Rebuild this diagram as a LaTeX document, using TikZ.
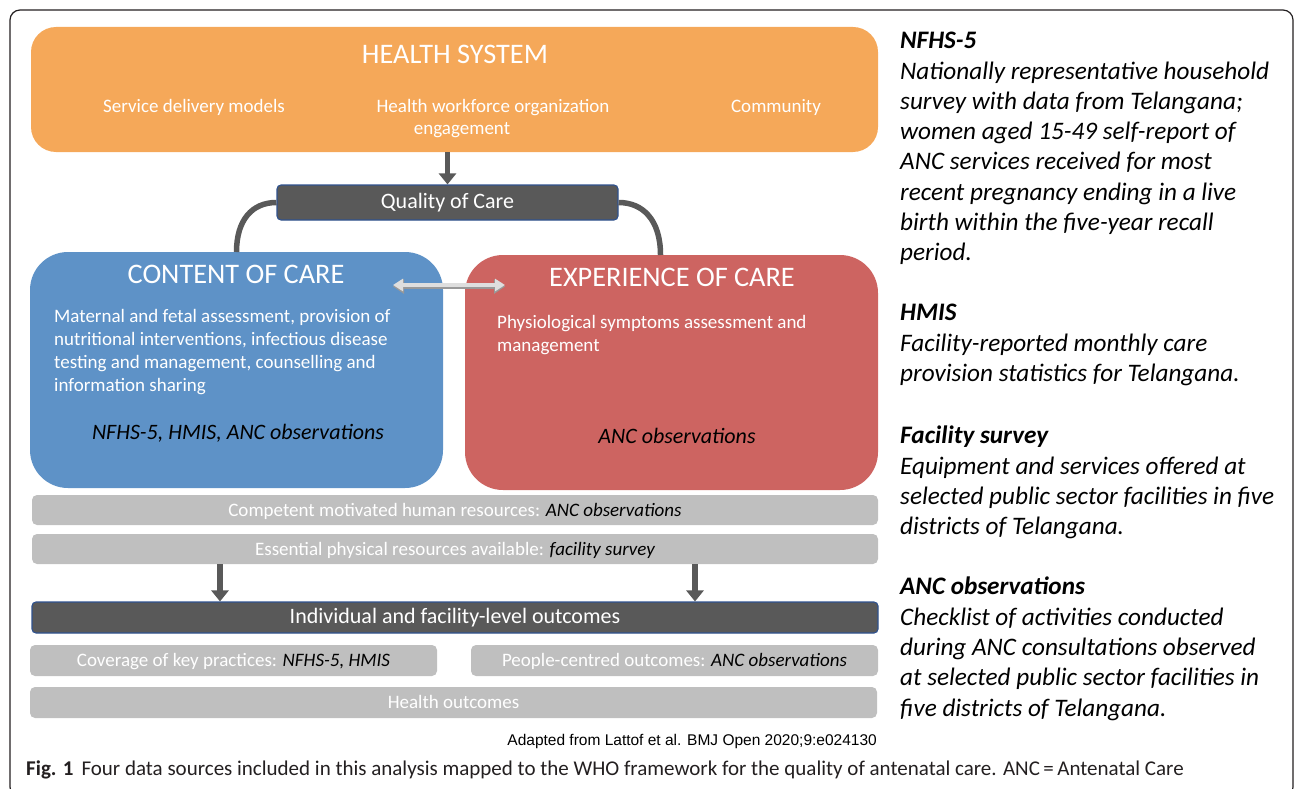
\documentclass[tikz,border=0pt]{standalone}
\usepackage{fontspec}
\setmainfont{Carlito}
\newfontfamily\arialfont{Liberation Sans}
\usetikzlibrary{arrows.meta,positioning,calc}

\definecolor{hsorange}{RGB}{245,168,89}
\definecolor{coblue}{RGB}{94,146,199}
\definecolor{eored}{RGB}{205,100,97}
\definecolor{bargray}{RGB}{191,191,191}
\definecolor{darkfill}{RGB}{89,89,89}
\definecolor{barline}{RGB}{47,82,143}
\definecolor{lightarrow}{RGB}{222,222,222}
\definecolor{captext}{RGB}{35,31,32}

\tikzset{
  panel/.style={inner sep=0pt, outer sep=0pt},
  head/.style={text=white, inner sep=0pt, font=\fontsize{28.3}{32}\selectfont},
  body/.style={text=white, inner sep=0pt, align=left, anchor=north west, font=\fontsize{19}{23}\selectfont},
  sub/.style={text=white, inner sep=0pt, font=\fontsize{19}{23}\selectfont},
  srcs/.style={inner sep=0pt, font=\fontsize{22}{26}\selectfont\itshape},
  greybar/.style={fill=bargray, rounded corners=5pt, inner sep=0pt, minimum height=30pt,
    text height=1.22em, text depth=0pt, text=white, font=\fontsize{19}{22}\selectfont},
  darkbar/.style={fill=darkfill, draw=barline, line width=1.1pt, rounded corners=4pt, inner sep=0pt,
    text height=1.26em, text depth=0pt, text=white},
  flow/.style={draw=darkfill, line width=5.5pt, -{Triangle[width=17pt,length=11pt]}},
  link/.style={draw=darkfill, line width=5.5pt},
  source/.style={inner sep=0pt, align=left, anchor=north west, text=black,
    font=\fontsize{25.2}{30.3}\selectfont\itshape},
}

\begin{document}
\begin{tikzpicture}[x=1pt,y=-1pt]
\useasboundingbox (0,0) rectangle (1295,789);

% cadre de la figure
\draw[captext, line width=1.2pt, rounded corners=10pt] (10,10) rectangle (1293,797);

% systeme de sante
\node[panel, fill=hsorange, rounded corners=25pt, minimum width=847pt, minimum height=125pt] (hs) at (454.5,89.5) {};
\node[head] (hst) at (455,54) {HEALTH SYSTEM};
\node[sub] (sdm) at (194,107) {Service delivery models};
\node[sub] (hwf) at (493,107.5) {Health workforce organization};
\node[sub] (eng) at (462,130.5) {engagement};
\node[sub] (com) at (776,107) {Community};

% qualite des soins
\node[darkbar, minimum width=341pt, minimum height=35pt, font=\fontsize{22}{26}\selectfont] (qoc) at (447.5,202.5) {Quality of Care};
\draw[flow] (hs.south -| qoc.north) -- (qoc.north);

% contenu et experience des soins
\node[panel, fill=coblue, rounded corners=38pt, minimum width=413pt, minimum height=236pt] (coc) at (236.5,370) {};
\node[panel, fill=eored, rounded corners=38pt, minimum width=413pt, minimum height=235pt] (eoc) at (671.5,372.5) {};

\draw[link] (qoc.west) .. controls (252,202.5) and (236.5,220) .. (coc.north);
\coordinate (eocin) at ($(eoc.north)+(-11,0)$);
\draw[link] (qoc.east) .. controls (643,202.5) and (660.5,220) .. (eocin);

\node[head] (coct) at (236,274) {CONTENT OF CARE};
\node[body] (cocb) at (54,309.5) {Maternal and fetal assessment, provision of\\
  nutritional interventions, infectious disease\\
  testing and management, counselling and\\
  information sharing};
\node[srcs] (cocs) at (238,433) {NFHS-5, HMIS, ANC observations};

\node[head] (eoct) at (672,277) {EXPERIENCE OF CARE};
\node[body] (eocb) at (497,315.5) {Physiological symptoms assessment and\\
  management};
\node[srcs] (eocs) at (677,436) {ANC observations};

% fleche double entre les deux blocs
\coordinate (dl) at (393,285);
\coordinate (dr) at (505,285);
\draw[draw=gray!80, line width=4.6pt, {Triangle[width=14pt,length=11pt]}-{Triangle[width=14pt,length=11pt]}] ($(dl)+(0,1.5)$) -- ($(dr)+(0,1.5)$);
\draw[draw=lightarrow, line width=3.4pt, {Triangle[width=12pt,length=10pt]}-{Triangle[width=12pt,length=10pt]}] (dl) -- (dr);

% ressources
\node[greybar, minimum width=846pt] (hr) at (455,510) {Competent motivated human resources: \textcolor{black}{\itshape ANC observations}};
\node[greybar, minimum width=846pt] (phys) at (455,549) {Essential physical resources available: \textcolor{black}{\itshape facility survey}};

% resultats
\node[darkbar, minimum width=846pt, minimum height=31pt, font=\fontsize{22}{26}\selectfont] (outc) at (455,617.5) {Individual and facility-level outcomes};
\coordinate (lx) at (220,0);
\coordinate (rx) at (695,0);
\draw[flow] (phys.south -| lx) -- (outc.north -| lx);
\draw[flow] (phys.south -| rx) -- (outc.north -| rx);

\node[greybar, minimum width=407pt, minimum height=31pt] (cov) at (233.5,660.5) {Coverage of key practices: \textcolor{black}{\itshape NFHS-5, HMIS}};
\node[greybar, minimum width=407pt, minimum height=31pt] (pco) at (674.5,660.5) {People-centred outcomes: \textcolor{black}{\itshape ANC observations}};
\node[greybar, minimum width=847pt, minimum height=31pt] (ho) at (453.5,702.5) {Health outcomes};

\node[inner sep=0pt, anchor=east, font=\arialfont\fontsize{15.5}{18}\selectfont] (adapt) at (877,741) {Adapted from Lattof et al. BMJ Open 2020;9:e024130};

% sources de donnees
\node[source] (nfhs) at (900,32) {\textbf{NFHS-5}\\
  Nationally representative household\\
  survey with data from Telangana;\\
  women aged 15-49 self-report of\\
  ANC services received for most\\
  recent pregnancy ending in a live\\
  birth within the five-year recall\\
  period.};
\node[source] (hmis) at (900,304) {\textbf{HMIS}\\
  Facility-reported monthly care\\
  provision statistics for Telangana.};
\node[source] (fac) at (900,426) {\textbf{Facility survey}\\
  Equipment and services offered at\\
  selected public sector facilities in five\\
  districts of Telangana.};
\node[source] (anc) at (900,577) {\textbf{ANC observations}\\
  Checklist of activities conducted\\
  during ANC consultations observed\\
  at selected public sector facilities in\\
  five districts of Telangana.};

% legende
\node[inner sep=0pt, anchor=west, text=captext, font=\fontsize{21}{24}\selectfont] (cap) at (26,770) {\textbf{Fig. 1}\hspace{8pt}Four data sources included in this analysis mapped to the WHO framework for the quality of antenatal care. ANC\,=\,Antenatal Care};
\end{tikzpicture}
\end{document}
